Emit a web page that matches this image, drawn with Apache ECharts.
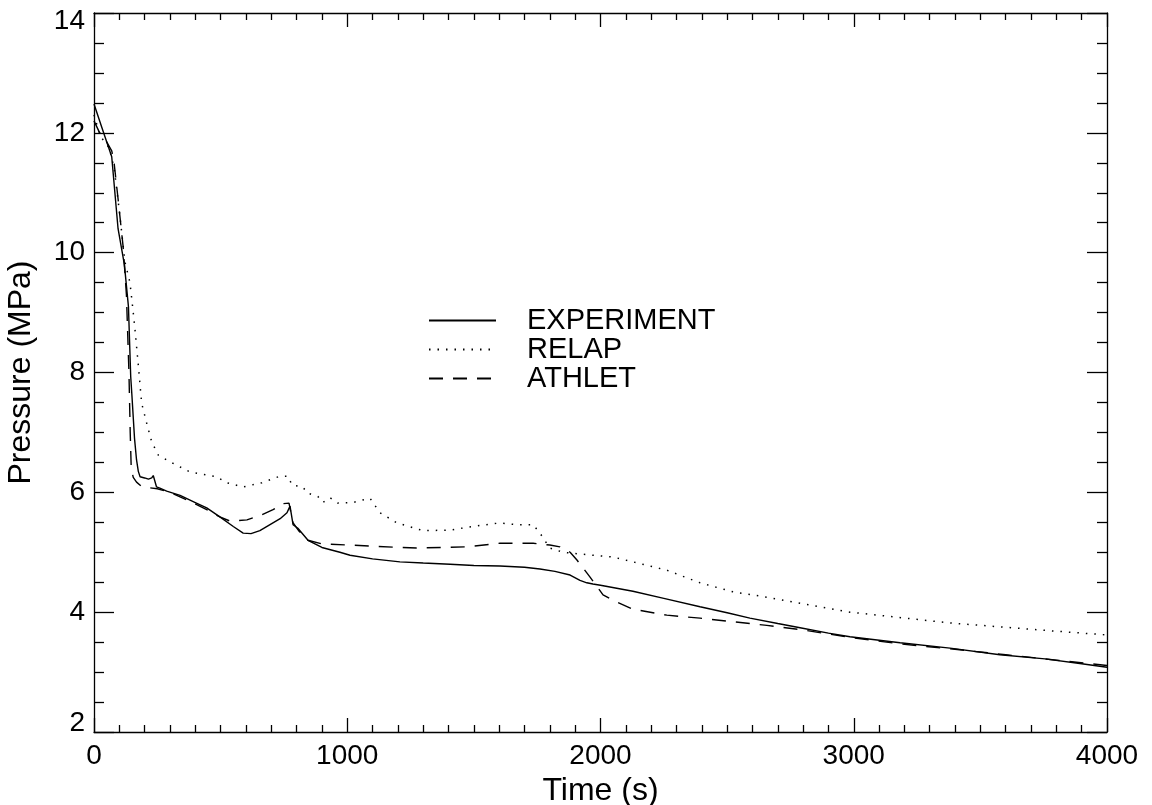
<!DOCTYPE html>
<html>
<head>
<meta charset="utf-8">
<script src="https://cdn.jsdelivr.net/npm/echarts@6/dist/echarts.min.js"></script>
<style>
html,body{margin:0;padding:0;background:#fff;}
#chart{width:1152px;height:805px;}
</style>
</head>
<body>
<div id="chart"></div>
<script>
// ---- Data ----
var expTime = [0,30,70,95,120,136,145,150,160,168,175,182,200,215,228,234,247,260,287,340,400,445,497,550,589,620,655,695,735,762,774,786,805,825,845,900,971,1011,1100,1208,1300,1406,1500,1603,1700,1761,1820,1880,1919,1946,1970,2000,2128,2250,2393,2500,2590,2700,2788,2900,2985,3183,3380,3577,3755,3900,4000];
var expP    = [12.48,12.1,11.6,10.4,9.8,9.1,7.93,7.6,6.9,6.54,6.35,6.26,6.24,6.22,6.24,6.28,6.09,6.07,6.02,5.95,5.83,5.74,5.59,5.43,5.32,5.31,5.36,5.46,5.56,5.66,5.77,5.46,5.40,5.30,5.20,5.08,5.0,4.95,4.89,4.84,4.82,4.80,4.78,4.77,4.75,4.72,4.68,4.62,4.53,4.49,4.47,4.45,4.35,4.23,4.09,3.99,3.90,3.81,3.74,3.65,3.59,3.49,3.40,3.29,3.22,3.14,3.08];

var relapTime = [0,24,60,80,100,122,142,155,162,175,188,207,228,254,300,379,484,524,589,663,734,766,782,825,841,884,904,932,963,1023,1078,1090,1129,1196,1300,1406,1512,1603,1670,1734,1761,1800,1852,1970,2050,2128,2262,2393,2523,2657,2788,2985,3380,3775,4000];
var relapP    = [12.3,11.95,11.75,11.4,10.7,9.85,9.5,9.0,8.71,8.12,7.49,7.17,6.84,6.62,6.51,6.34,6.26,6.16,6.09,6.16,6.27,6.27,6.12,6.09,5.99,5.93,5.83,5.91,5.82,5.83,5.89,5.9,5.66,5.49,5.36,5.37,5.44,5.49,5.46,5.46,5.32,5.07,5.0,4.95,4.92,4.84,4.70,4.49,4.34,4.25,4.15,4.0,3.82,3.69,3.62];

var athletTime = [0,20,50,70,78,95,115,128,138,143,147,155,168,190,210,250,300,379,450,497,537,604,660,707,746,770,785,810,845,900,1011,1100,1274,1471,1603,1734,1800,1840,1880,1907,1958,2010,2049,2128,2262,2393,2523,2657,2788,2985,3183,3400,3600,3800,4000];
var athletP    = [12.2,12.02,11.85,11.7,11.55,10.9,10.1,9.3,8.0,7.0,6.4,6.25,6.17,6.09,6.08,6.06,6.0,5.85,5.7,5.59,5.52,5.54,5.62,5.71,5.81,5.82,5.5,5.35,5.2,5.14,5.12,5.1,5.07,5.09,5.15,5.15,5.12,5.09,5.0,4.87,4.59,4.29,4.2,4.05,3.95,3.90,3.84,3.78,3.71,3.58,3.47,3.38,3.29,3.2,3.11];

var seriesNames = ['EXPERIMENT','RELAP','ATHLET'];
var xTicks = [0,1000,2000,3000,4000];
var yTicks = [2,4,6,8,10,12,14];

function pairs(t, v){ return t.map(function(x,i){ return [x, v[i]]; }); }

var FONT = 'Liberation Sans';
var chart = echarts.init(document.getElementById('chart'), null, {renderer:'canvas'});

var xBase = {
  type:'value', min:xTicks[0], max:xTicks[xTicks.length-1], interval:1000,
  axisLine:{show:true, onZero:false, lineStyle:{color:'#000', width:1.3}},
  axisTick:{show:true, inside:true, length:14, lineStyle:{color:'#000', width:1.3}},
  minorTick:{show:true, splitNumber:10, length:7, lineStyle:{color:'#000', width:1.3}},
  splitLine:{show:false}
};
var yBase = {
  type:'value', min:yTicks[0], max:yTicks[yTicks.length-1], interval:2,
  axisLine:{show:true, onZero:false, lineStyle:{color:'#000', width:1.3}},
  axisTick:{show:true, inside:true, length:20, lineStyle:{color:'#000', width:1.3}},
  minorTick:{show:true, splitNumber:4, length:10, lineStyle:{color:'#000', width:1.3}},
  splitLine:{show:false}
};
var lblStyle = {fontFamily:FONT, fontSize:28, color:'#000'};

var option = {
  backgroundColor:'#fff',
  animation:false,
  grid:{left:94, right:45, top:13, bottom:73, containLabel:false, outerBoundsMode:'none'},
  legend:{
    orient:'vertical', left:423, top:301, itemGap:0,
    itemWidth:67, itemHeight:14,
    data:seriesNames,
    itemStyle:{opacity:0},
    textStyle:{fontFamily:FONT, fontSize:29, color:'#000', lineHeight:29, padding:[0,0,0,26]}
  },
  xAxis:[
    Object.assign({}, xBase, {position:'bottom', name:'Time (s)', nameLocation:'middle', nameGap:37,
      nameTextStyle:{fontFamily:FONT, fontSize:32, color:'#000'},
      axisLabel:{show:true, margin:10, fontFamily:FONT, fontSize:28, color:'#000',
        formatter:function(v){ return String(v); }}}),
    Object.assign({}, xBase, {position:'top', axisLabel:{show:false}})
  ],
  yAxis:[
    Object.assign({}, yBase, {position:'left', name:'Pressure (MPa)', nameLocation:'middle', nameGap:57,
      nameTextStyle:{fontFamily:FONT, fontSize:32, color:'#000'},
      axisLabel:{show:true, margin:9, fontFamily:FONT, fontSize:28, color:'#000',
        formatter:function(v){
          if (v === yTicks[yTicks.length-1]) return '{t|' + v + '}';
          if (v === yTicks[0]) return '{b|' + v + '}';
          return String(v);
        },
        rich:{
          t:Object.assign({padding:[16,0,0,0]}, lblStyle),
          b:Object.assign({padding:[0,0,18,0]}, lblStyle)
        }}}),
    Object.assign({}, yBase, {position:'right', axisLabel:{show:false}})
  ],
  series:[
    {name:seriesNames[0], type:'line', data:pairs(expTime, expP), showSymbol:false, symbol:'none',
     lineStyle:{color:'#000', width:1.4, type:'solid'}, itemStyle:{color:'#000'}},
    {name:seriesNames[1], type:'line', data:pairs(relapTime, relapP), showSymbol:false, symbol:'none',
     lineStyle:{color:'#000', width:1.5, type:[1.5,7]}, itemStyle:{color:'#000'}},
    {name:seriesNames[2], type:'line', data:pairs(athletTime, athletP), showSymbol:false, symbol:'none',
     lineStyle:{color:'#000', width:1.4, type:[14,10]}, itemStyle:{color:'#000'}}
  ]
};
chart.setOption(option);
</script>
</body>
</html>
